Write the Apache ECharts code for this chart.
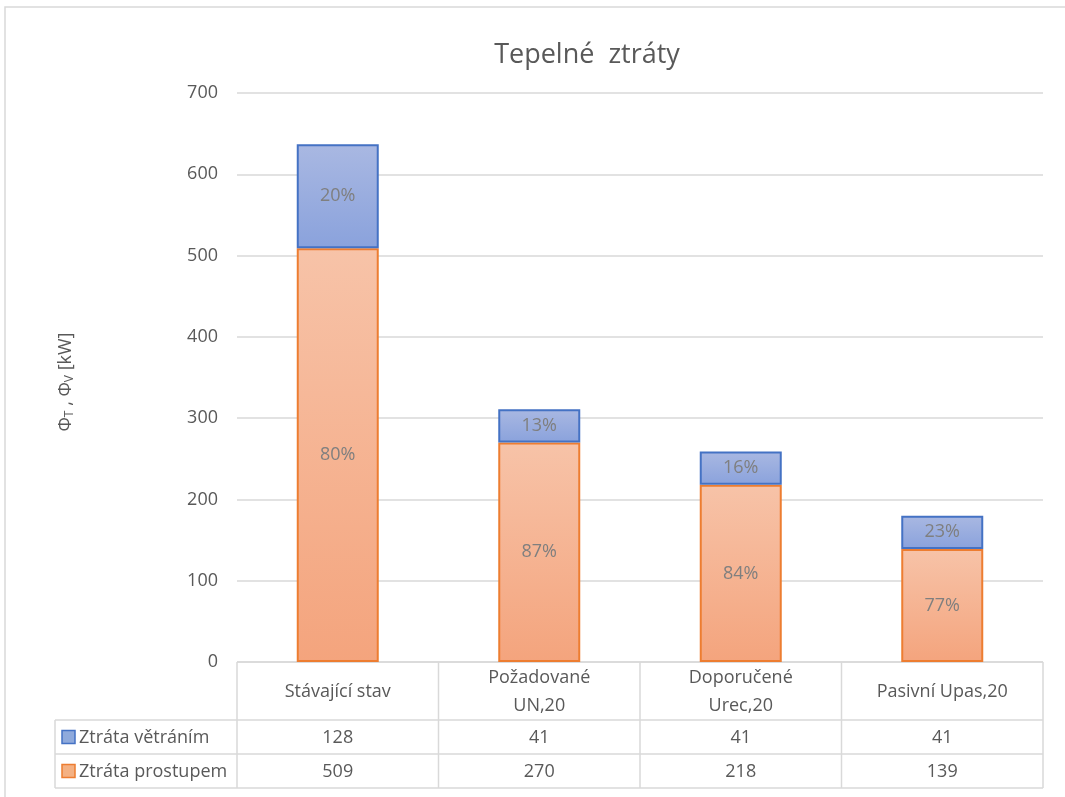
<!DOCTYPE html>
<html>
<head>
<meta charset="utf-8">
<script src="https://cdn.jsdelivr.net/npm/echarts@6/dist/echarts.min.js"></script>
<style>
  html, body { margin: 0; padding: 0; background: #fff; }
  #chart { width: 1065px; height: 797px; }
</style>
</head>
<body>
<div id="chart"></div>
<script>
// Heat loss per building variant [kW]
const categories = ['Stávající stav', 'Požadované\nUN,20', 'Doporučené\nUrec,20', 'Pasivní Upas,20'];
const ventilation = [128, 41, 41, 41];      // Ztráta větráním
const transmission = [509, 270, 218, 139];  // Ztráta prostupem
const seriesNames = ['Ztráta větráním', 'Ztráta prostupem'];
const yTicks = { min: 0, max: 700, interval: 100 };

const FONT = '"Open Sans", "Noto Sans", sans-serif';
const totals = categories.map((_, i) => ventilation[i] + transmission[i]);
const pct = (v, i) => Math.round(v / totals[i] * 100) + '%';

const GRID = { left: 237, right: 22, top: 93, bottom: 135 };
const W = 1065, H = 797;
const plotBottom = H - GRID.bottom;
const plotRight = W - GRID.right;

function grad(top, bottom) {
  return new echarts.graphic.LinearGradient(0, 0, 0, 1, [
    { offset: 0, color: top }, { offset: 1, color: bottom }
  ]);
}

const chart = echarts.init(document.getElementById('chart'), null, { renderer: 'canvas' });

const labelStyle = {
  show: true, position: 'inside', color: '#7f7f7f',
  fontFamily: FONT, fontSize: 18
};

chart.setOption({
  animation: false,
  backgroundColor: '#fff',
  grid: GRID,
  xAxis: {
    type: 'category', data: categories,
    axisLine: { show: false }, axisTick: { show: false }, axisLabel: { show: false }
  },
  yAxis: {
    type: 'value', min: yTicks.min, max: yTicks.max, interval: yTicks.interval,
    axisLine: { show: false }, axisTick: { show: false },
    axisLabel: { color: '#595959', fontFamily: FONT, fontSize: 18, margin: 19 },
    splitLine: { lineStyle: { color: '#d9d9d9', width: 1.5 } }
  },
  series: [
    {
      name: seriesNames[1], type: 'bar', stack: 'loss', barWidth: 82,
      data: transmission,
      itemStyle: { color: grad('#f7c3a8', '#f4a47d'), borderColor: '#ed7d31', borderWidth: 2 },
      label: Object.assign({}, labelStyle, { formatter: p => pct(p.value, p.dataIndex) })
    },
    {
      name: seriesNames[0], type: 'bar', stack: 'loss', barWidth: 82,
      data: ventilation,
      itemStyle: { color: grad('#a9b8e2', '#8aa2dc'), borderColor: '#4472c4', borderWidth: 2 },
      label: Object.assign({}, labelStyle, { formatter: p => pct(p.value, p.dataIndex) })
    }
  ]
});

// Data table under the plot, aligned with the category axis
const colW = (plotRight - GRID.left) / categories.length;
const rowCat = plotBottom, rowV = 720, rowT = 754, rowEnd = 788;
const tableLeft = 55;
const lineStyle = { stroke: '#d9d9d9', lineWidth: 1.5 };
const g = [];

function hline(x1, x2, y) { g.push({ type: 'line', shape: { x1, y1: y, x2, y2: y }, style: lineStyle, silent: true }); }
function vline(x, y1, y2) { g.push({ type: 'line', shape: { x1: x, y1, x2: x, y2 }, style: lineStyle, silent: true }); }
function text(str, x, y, align, size) {
  g.push({ type: 'text', x, y, silent: true,
    style: { text: str, fill: '#595959', font: (size || 18) + 'px ' + FONT, textAlign: align || 'center', textVerticalAlign: 'middle', lineHeight: 28 } });
}

// Chart title
text('Tepelné  ztráty', 587, 55, 'center', 27);

hline(GRID.left, plotRight, rowCat);
hline(tableLeft, plotRight, rowV);
hline(tableLeft, plotRight, rowT);
hline(tableLeft, plotRight, rowEnd);
vline(tableLeft, rowV, rowEnd);
for (let i = 0; i <= categories.length; i++) vline(GRID.left + i * colW, rowCat, rowEnd);

categories.forEach((c, i) => {
  const cx = chart.convertToPixel({ xAxisIndex: 0 }, i);
  text(c, cx, (rowCat + rowV) / 2 + 1);
  text(String(ventilation[i]), cx, (rowV + rowT) / 2 + 1);
  text(String(transmission[i]), cx, (rowT + rowEnd) / 2 + 1);
});

// Legend keys in the row headers
[[rowV, '#8faadc', '#4472c4'], [rowT, '#f4b183', '#ed7d31']].forEach(([y, fill, stroke], k) => {
  const cy = (y + y + 34) / 2;
  g.push({ type: 'rect', shape: { x: 62, y: cy - 6.5, width: 13, height: 13 }, style: { fill, stroke, lineWidth: 1.5 }, silent: true });
  text(seriesNames[k], 79, cy + 1, 'left');
});

// Y axis title with subscripts
g.push({
  type: 'text', x: 66, y: 382, rotation: Math.PI / 2, silent: true,
  style: {
    text: 'Φ{s|T} , Φ{s|V} [kW]', fill: '#595959', font: '18px ' + FONT,
    textAlign: 'center', textVerticalAlign: 'middle',
    rich: { s: { fontSize: 12, fontFamily: FONT, fill: '#595959', padding: [8, 0, 0, 0] } }
  }
});

// Outer chart frame
g.push({ type: 'rect', shape: { x: 5, y: 7, width: 1070, height: 800 }, style: { fill: 'none', stroke: '#d9d9d9', lineWidth: 1.5 }, silent: true });

chart.setOption({ graphic: g });
</script>
</body>
</html>
